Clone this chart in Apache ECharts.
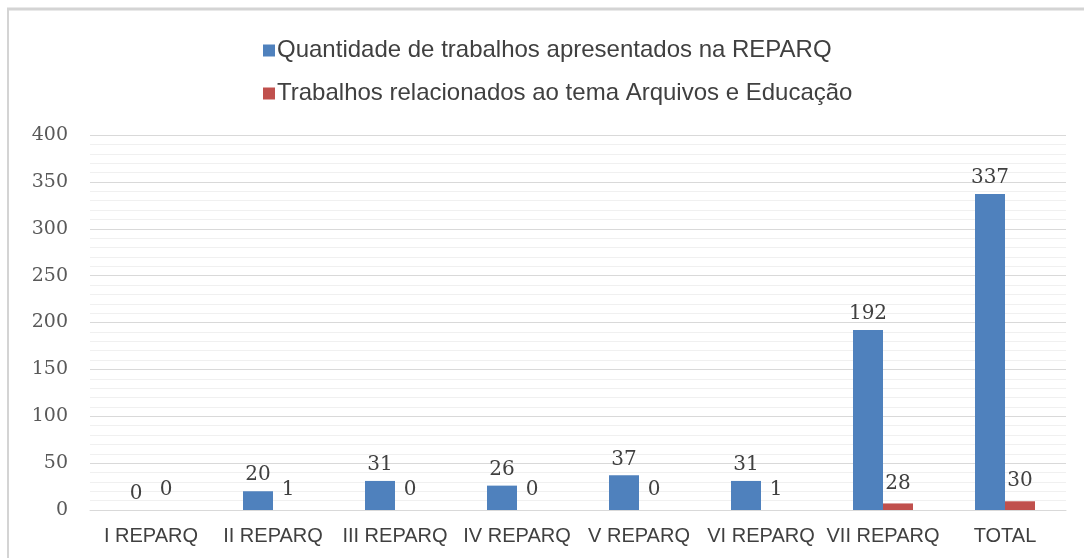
<!DOCTYPE html>
<html>
<head>
<meta charset="utf-8">
<script src="https://cdn.jsdelivr.net/npm/echarts@6/dist/echarts.min.js"></script>
<style>
  html, body { margin: 0; padding: 0; background: #fff; }
  #chart { width: 1084px; height: 558px; }
</style>
</head>
<body>
<div id="chart"></div>
<script>
// dados
const categorias = ['I REPARQ', 'II REPARQ', 'III REPARQ', 'IV REPARQ', 'V REPARQ', 'VI REPARQ', 'VII REPARQ', 'TOTAL'];
const nomeSerie1 = 'Quantidade de trabalhos apresentados na REPARQ';
const nomeSerie2 = 'Trabalhos relacionados ao tema Arquivos e Educação';
const trabalhos = [0, 20, 31, 26, 37, 31, 192, 337];
// altura das barras vermelhas como aparecem no gráfico
const educacaoAltura = [0, 0, 0, 0, 0, 0, 7, 9.3];
// rótulos mostrados sobre as barras vermelhas
const educacaoRotulos = ['0', '1', '0', '0', '0', '1', '28', '30'];
const yTicks = [0, 50, 100, 150, 200, 250, 300, 350, 400];

const chart = echarts.init(document.getElementById('chart'));

const serif = '"DejaVu Serif", serif';
const sans = '"Liberation Sans", Arial, sans-serif';

const option = {
    animation: false,
    backgroundColor: '#fff',
    legend: {
        orient: 'vertical',
        left: 258,
        top: 33,
        itemWidth: 12,
        itemHeight: 12,
        itemGap: 18,
        icon: 'rect',
        textStyle: { fontFamily: sans, fontSize: 24, color: '#404040', lineHeight: 25, padding: [0, 0, 0, -3] },
        data: [nomeSerie1, nomeSerie2]
    },
    grid: {
        left: 90,
        right: 18,
        top: 135,
        bottom: 48
    },
    xAxis: {
        type: 'category',
        data: categorias,
        axisTick: { show: false },
        axisLine: { lineStyle: { color: '#d9d9d9', width: 1 } },
        axisLabel: { interval: 0, fontFamily: sans, fontSize: 20, color: '#404040', margin: 16 }
    },
    yAxis: {
        type: 'value',
        min: yTicks[0],
        max: yTicks[yTicks.length - 1],
        interval: 50,
        axisLine: { show: false },
        axisTick: { show: false },
        axisLabel: { fontFamily: serif, fontSize: 19, color: '#595959', margin: 22 },
        splitLine: { lineStyle: { color: '#d9d9d9', width: 1 } },
        minorTick: { show: false, splitNumber: 5 },
        minorSplitLine: { show: true, lineStyle: { color: '#f0f0f0', width: 1 } }
    },
    series: [
        {
            name: nomeSerie1,
            type: 'bar',
            data: trabalhos,
            barWidth: 30,
            barGap: '0%',
            itemStyle: { color: '#4f81bd' },
            label: {
                show: true,
                position: 'top',
                distance: 6,
                fontFamily: serif,
                fontSize: 20,
                color: '#404040'
            }
        },
        {
            name: nomeSerie2,
            type: 'bar',
            data: educacaoAltura,
            barWidth: 30,
            barGap: '0%',
            itemStyle: { color: '#c0504d' },
            label: {
                show: true,
                position: 'top',
                distance: 10,
                fontFamily: serif,
                fontSize: 20,
                color: '#404040',
                formatter: function (p) { return educacaoRotulos[p.dataIndex]; }
            }
        }
    ],
    graphic: [
        { type: 'line', shape: { x1: 7, y1: 9, x2: 1084, y2: 9 }, style: { stroke: '#d4d4d4', lineWidth: 3 } },
        { type: 'line', shape: { x1: 8, y1: 8, x2: 8, y2: 558 }, style: { stroke: '#d4d4d4', lineWidth: 2 } }
    ]
};

chart.setOption(option);
window.addEventListener('resize', function () {
    chart.resize();
});
</script>
</body>
</html>
